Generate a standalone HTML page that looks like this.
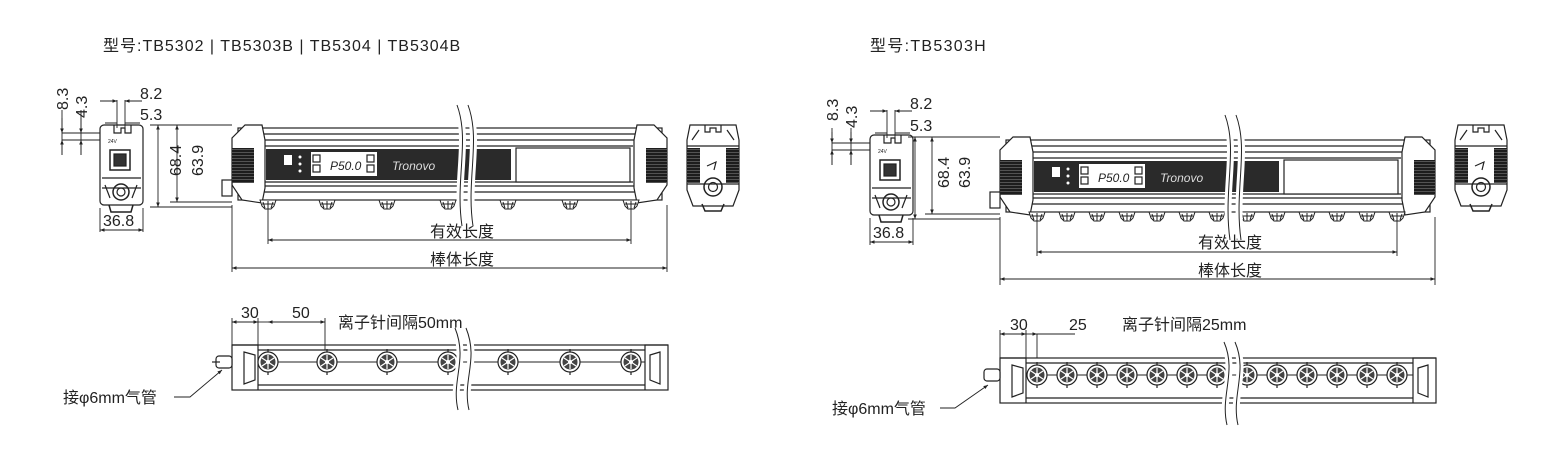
<!DOCTYPE html>
<html><head><meta charset="utf-8"><style>
html,body{margin:0;padding:0;background:#fff;}
svg{display:block}
text{font-family:"Liberation Sans","Noto Sans CJK SC",sans-serif;fill:#222}
</style></head><body>
<svg width="1560" height="450" viewBox="0 0 1560 450" xmlns="http://www.w3.org/2000/svg">
<defs>
<marker id="ar" viewBox="0 0 10 10" refX="10" refY="5" markerWidth="7" markerHeight="5" orient="auto-start-reverse"><path d="M0,1 L10,5 L0,9 z" fill="#222"/></marker>
<g id="emit"><path d="M-8,0 L8,0 L6,6 L3,9 L-3,9 L-6,6 z" fill="#fff" stroke="#222" stroke-width="1"/><path d="M-5,2 L-3,8 M0,1 L0,9 M5,2 L3,8 M-6,4 L6,4" stroke="#222" stroke-width="1"/></g>
<g id="ring"><circle r="10" fill="#fff" stroke="#222" stroke-width="1.2"/><circle r="7.5" fill="#444"/><path d="M-6,-4 L6,4 M-6,4 L6,-4 M0,-7 L0,7" stroke="#fff" stroke-width="1.2"/><circle r="2" fill="#fff"/><path d="M0,-13 L0,-10 M0,10 L0,13" stroke="#222"/></g>
<pattern id="grill" width="4" height="3" patternUnits="userSpaceOnUse"><rect width="4" height="3" fill="#1d1d1d"/><rect y="2" width="4" height="0.6" fill="#777"/></pattern>

<g id="side" stroke="#222" fill="none" stroke-width="1.2">
<rect x="100" y="125" width="43" height="80" rx="4" fill="#fff"/>
<path d="M114,125 L114,133 L121,133 L121,128 L125,128 L125,133 L131,133 L131,125"/>
<rect x="110" y="150" width="20" height="20" stroke-width="1.5"/>
<rect x="114" y="154" width="12" height="12" fill="#333"/>
<path d="M102,178 L141,178 M102,188 L141,188"/>
<circle cx="121" cy="192" r="8" stroke-width="1.5"/><circle cx="121" cy="192" r="4"/>
<path d="M105,185 L110,198 M137,185 L132,198"/>
<path d="M109,205 L111,212 L131,212 L133,205" stroke-width="1.5"/>
<text x="108" y="143" font-size="5" stroke="none">24V</text>
</g>

<g id="front" stroke="#222" fill="none" stroke-width="1.2">
<rect x="238" y="128" width="424" height="72" fill="#fff"/>
<path d="M262,134 L640,134 M262,140 L640,140 M262,186 L640,186 M262,192 L640,192"/>
<path d="M232,147 L232,185 L242,200 L262,203 L265,188 L265,140 L262,125 L245,125 L232,138 z" fill="#fff"/>
<path d="M667,147 L667,185 L657,200 L637,203 L634,188 L634,140 L637,125 L654,125 L667,138 z" fill="#fff"/>
<rect x="232" y="148" width="22" height="35" fill="url(#grill)" stroke="none"/>
<rect x="646" y="148" width="21" height="35" fill="url(#grill)" stroke="none"/>
<path d="M265,146 L633,146 M265,182 L633,182"/>
<rect x="266" y="149" width="245" height="31" fill="#2a2a2a" stroke="none"/>
<rect x="284" y="155" width="8" height="10" fill="#fff" stroke="none"/>
<circle cx="300" cy="157" r="1.5" fill="#fff" stroke="none"/><circle cx="300" cy="164" r="1.5" fill="#fff" stroke="none"/><circle cx="300" cy="171" r="1.5" fill="#fff" stroke="none"/>
<rect x="311" y="152" width="66" height="24" fill="#fff" stroke="none"/>
<rect x="313" y="155" width="7" height="7" fill="#fff"/><rect x="313" y="165" width="7" height="7" fill="#fff"/>
<rect x="367" y="155" width="7" height="7" fill="#fff"/><rect x="367" y="165" width="7" height="7" fill="#fff"/>
<text x="330" y="170" font-size="12" font-style="italic" stroke="none">P50.0</text>
<text x="392" y="170" font-size="12" font-style="italic" stroke="none" style="fill:#ddd">Tronovo</text>
<rect x="516" y="148" width="114" height="34" fill="#fff"/>
<rect x="222" y="180" width="10" height="16" fill="#fff"/>
<g stroke="none">
<use href="#emit" x="268" y="200"/><use href="#emit" x="327" y="200"/><use href="#emit" x="387" y="200"/><use href="#emit" x="448" y="200"/><use href="#emit" x="508" y="200"/><use href="#emit" x="570" y="200"/><use href="#emit" x="631" y="200"/>
</g>
</g>

<g id="endv" stroke="#222" fill="none" stroke-width="1.2">
<path d="M690,125 L736,125 L739,140 L739,190 L733,206 L693,206 L687,190 L687,140 z" fill="#fff"/>
<path d="M705,125 L705,132 L710,132 L710,128 L716,128 L716,132 L721,132 L721,125"/>
<path d="M692,140 L699,130 M734,140 L727,130 M687,146 L739,146 M687,184 L739,184"/>
<rect x="687" y="148" width="13" height="35" fill="url(#grill)" stroke="none"/>
<rect x="726" y="148" width="13" height="35" fill="url(#grill)" stroke="none"/>
<path d="M707,166 L716,162 L714,170"/>
<circle cx="713" cy="187" r="9" stroke-width="1.5"/><circle cx="713" cy="187" r="4.5"/>
<path d="M702,204 L705,211 L721,211 L724,204" stroke-width="1.5"/>
</g>

<g id="bot" stroke="#222" fill="none" stroke-width="1.2">
<rect x="232" y="345" width="436" height="45" fill="#fff"/>
<path d="M232,345 L258,345 L258,390 M668,345 L645,345 L645,390"/>
<path d="M258,350 L645,350 M258,385 L645,385"/>
<path d="M244,352 L255,355 L255,380 L244,384 z"/>
<path d="M660,352 L650,355 L650,380 L660,384 z"/>
<rect x="216" y="356" width="16" height="12" rx="3" fill="#fff"/>
<path d="M212,362 L220,362"/>
<path d="M258,362 L645,362" stroke-width="1"/>
<g stroke="none">
<use href="#ring" x="268" y="362"/><use href="#ring" x="327" y="362"/><use href="#ring" x="387" y="362"/><use href="#ring" x="448" y="362"/><use href="#ring" x="508" y="362"/><use href="#ring" x="570" y="362"/><use href="#ring" x="631" y="362"/>
</g>
</g>
</defs>

<!-- LEFT -->
<text x="103" y="51" font-size="16" letter-spacing="1">型号:TB5302 | TB5303B | TB5304 | TB5304B</text>
<use href="#side"/><use href="#front"/><use href="#endv"/><use href="#bot"/>
<g stroke="#222" stroke-width="0.9" fill="none">
<path d="M62,133 L100,133 M62,140 L100,140 M62,122 L62,155 M81,122 L81,155 M62,110 L62,133 M81,110 L81,133"/>
<path d="M62,118 L62,133" marker-end="url(#ar)"/><path d="M62,155 L62,140" marker-end="url(#ar)"/>
<path d="M81,118 L81,133" marker-end="url(#ar)"/><path d="M81,155 L81,140" marker-end="url(#ar)"/>
<path d="M117,100 L117,128 M125,100 L125,128"/>
<path d="M100,101 L117,101" marker-end="url(#ar)"/><path d="M142,101 L125,101" marker-end="url(#ar)"/>
<path d="M105,123 L117,123 M125,123 L140,123"/>
<path d="M100,208 L100,232 M143,208 L143,232"/>
<path d="M100,230 L143,230" marker-start="url(#ar)" marker-end="url(#ar)"/>
<path d="M150,125 L232,125 M150,207 L232,207 M170,202 L232,202"/>
<path d="M158,125 L158,207" marker-start="url(#ar)" marker-end="url(#ar)"/>
<path d="M177,125 L177,202" marker-start="url(#ar)" marker-end="url(#ar)"/>
<path d="M268,206 L268,244 M631,206 L631,244 M232,205 L232,272 M667,205 L667,272"/>
<path d="M268,240 L631,240" marker-start="url(#ar)" marker-end="url(#ar)"/>
<path d="M232,268 L667,268" marker-start="url(#ar)" marker-end="url(#ar)"/>
<path d="M232,318 L232,345 M258,318 L258,345 M325,318 L325,350"/>
<path d="M232,322 L258,322" marker-start="url(#ar)" marker-end="url(#ar)"/>
<path d="M268,322 L325,322" marker-start="url(#ar)" marker-end="url(#ar)"/><path d="M258,322 L268,322"/>
<path d="M174,397 L190,397 L222,370" marker-end="url(#ar)"/>
</g>
<text transform="translate(68,110) rotate(-90)" font-size="16">8.3</text>
<text transform="translate(87,118) rotate(-90)" font-size="16">4.3</text>
<text x="140" y="99" font-size="16">8.2</text>
<text x="140" y="120" font-size="16">5.3</text>
<text x="103" y="226" font-size="16">36.8</text>
<text transform="translate(181,176) rotate(-90)" font-size="16">68.4</text>
<text transform="translate(203,176) rotate(-90)" font-size="16">63.9</text>
<text x="430" y="237" font-size="16">有效长度</text>
<text x="430" y="265" font-size="16">棒体长度</text>
<text x="241" y="318" font-size="16">30</text>
<text x="292" y="318" font-size="16">50</text>
<text x="338" y="328" font-size="16">离子针间隔50mm</text>
<text x="63" y="403" font-size="16">接φ6mm气管</text>
<path d="M457,105 C470,140 455,180 462,226 M468,105 C481,140 466,180 473,226" stroke="#fff" stroke-width="7" fill="none"/>
<path d="M457,105 C470,140 455,180 462,226 M468,105 C481,140 466,180 473,226" stroke="#222" stroke-width="1" fill="none"/>
<path d="M455,328 C468,360 451,380 458,410 M466,328 C479,360 462,380 469,410" stroke="#fff" stroke-width="7" fill="none"/>
<path d="M455,328 C468,360 451,380 458,410 M466,328 C479,360 462,380 469,410" stroke="#222" stroke-width="1" fill="none"/>

<!-- RIGHT -->
<text x="870" y="51" font-size="16" letter-spacing="1.3">型号:TB5303H</text>
<g transform="translate(770,10)"><use href="#side"/></g>
<g transform="translate(768,12)">
<g stroke="#222" fill="none" stroke-width="1.2">
<rect x="238" y="128" width="424" height="72" fill="#fff"/>
<path d="M262,134 L640,134 M262,140 L640,140 M262,186 L640,186 M262,192 L640,192"/>
<path d="M232,147 L232,185 L242,200 L262,203 L265,188 L265,140 L262,125 L245,125 L232,138 z" fill="#fff"/>
<path d="M667,147 L667,185 L657,200 L637,203 L634,188 L634,140 L637,125 L654,125 L667,138 z" fill="#fff"/>
<rect x="232" y="148" width="22" height="35" fill="url(#grill)" stroke="none"/>
<rect x="646" y="148" width="21" height="35" fill="url(#grill)" stroke="none"/>
<path d="M265,146 L633,146 M265,182 L633,182"/>
<rect x="266" y="149" width="245" height="31" fill="#2a2a2a" stroke="none"/>
<rect x="284" y="155" width="8" height="10" fill="#fff" stroke="none"/>
<circle cx="300" cy="157" r="1.5" fill="#fff" stroke="none"/><circle cx="300" cy="164" r="1.5" fill="#fff" stroke="none"/><circle cx="300" cy="171" r="1.5" fill="#fff" stroke="none"/>
<rect x="311" y="152" width="66" height="24" fill="#fff" stroke="none"/>
<rect x="313" y="155" width="7" height="7" fill="#fff"/><rect x="313" y="165" width="7" height="7" fill="#fff"/>
<rect x="367" y="155" width="7" height="7" fill="#fff"/><rect x="367" y="165" width="7" height="7" fill="#fff"/>
<text x="330" y="170" font-size="12" font-style="italic" stroke="none">P50.0</text>
<text x="392" y="170" font-size="12" font-style="italic" stroke="none" style="fill:#ddd">Tronovo</text>
<rect x="516" y="148" width="114" height="34" fill="#fff"/>
<rect x="222" y="180" width="10" height="16" fill="#fff"/>
<g stroke="none">
<use href="#emit" x="269" y="200"/><use href="#emit" x="299" y="200"/><use href="#emit" x="329" y="200"/><use href="#emit" x="359" y="200"/><use href="#emit" x="389" y="200"/><use href="#emit" x="419" y="200"/><use href="#emit" x="449" y="200"/><use href="#emit" x="479" y="200"/><use href="#emit" x="509" y="200"/><use href="#emit" x="539" y="200"/><use href="#emit" x="569" y="200"/><use href="#emit" x="599" y="200"/><use href="#emit" x="629" y="200"/>
</g>
</g>
</g>
<g transform="translate(768,0)"><use href="#endv"/></g>
<g transform="translate(768,13)">
<g stroke="#222" fill="none" stroke-width="1.2">
<rect x="232" y="345" width="436" height="45" fill="#fff"/>
<path d="M232,345 L258,345 L258,390 M668,345 L645,345 L645,390"/>
<path d="M258,350 L645,350 M258,385 L645,385"/>
<path d="M244,352 L255,355 L255,380 L244,384 z"/>
<path d="M660,352 L650,355 L650,380 L660,384 z"/>
<rect x="216" y="356" width="16" height="12" rx="3" fill="#fff"/>
<path d="M258,362 L645,362" stroke-width="1"/>
<g stroke="none">
<use href="#ring" x="269" y="362"/><use href="#ring" x="299" y="362"/><use href="#ring" x="329" y="362"/><use href="#ring" x="359" y="362"/><use href="#ring" x="389" y="362"/><use href="#ring" x="419" y="362"/><use href="#ring" x="449" y="362"/><use href="#ring" x="479" y="362"/><use href="#ring" x="509" y="362"/><use href="#ring" x="539" y="362"/><use href="#ring" x="569" y="362"/><use href="#ring" x="599" y="362"/><use href="#ring" x="629" y="362"/>
</g>
</g>
</g>
<g stroke="#222" stroke-width="0.9" fill="none">
<path d="M832,143 L870,143 M832,150 L870,150 M832,132 L832,165 M851,132 L851,165"/>
<path d="M832,128 L832,143" marker-end="url(#ar)"/><path d="M832,165 L832,150" marker-end="url(#ar)"/>
<path d="M851,128 L851,143" marker-end="url(#ar)"/><path d="M851,165 L851,150" marker-end="url(#ar)"/>
<path d="M887,110 L887,138 M895,110 L895,138"/>
<path d="M870,111 L887,111" marker-end="url(#ar)"/><path d="M912,111 L895,111" marker-end="url(#ar)"/>
<path d="M875,133 L887,133 M895,133 L910,133"/>
<path d="M870,218 L870,245 M913,218 L913,245"/>
<path d="M870,242 L913,242" marker-start="url(#ar)" marker-end="url(#ar)"/>
<path d="M908,137 L1000,137 M908,219 L1000,219 M925,214 L1000,214"/>
<path d="M915,137 L915,219" marker-start="url(#ar)" marker-end="url(#ar)"/>
<path d="M932,137 L932,214" marker-start="url(#ar)" marker-end="url(#ar)"/>
<path d="M1037,218 L1037,256 M1397,218 L1397,256 M1000,217 L1000,285 M1435,217 L1435,285"/>
<path d="M1037,252 L1397,252" marker-start="url(#ar)" marker-end="url(#ar)"/>
<path d="M1000,279 L1435,279" marker-start="url(#ar)" marker-end="url(#ar)"/>
<path d="M1000,330 L1000,358 M1026,330 L1026,358 M1037,334 L1037,358"/>
<path d="M1000,334 L1026,334" marker-start="url(#ar)" marker-end="url(#ar)"/>
<path d="M1026,334 L1037,334" marker-end="url(#ar)"/><path d="M1037,334 L1075,334"/>
<path d="M940,408 L955,408 L988,385" marker-end="url(#ar)"/>
</g>
<text transform="translate(838,121) rotate(-90)" font-size="16">8.3</text>
<text transform="translate(857,128) rotate(-90)" font-size="16">4.3</text>
<text x="910" y="109" font-size="16">8.2</text>
<text x="910" y="131" font-size="16">5.3</text>
<text x="873" y="238" font-size="16">36.8</text>
<text transform="translate(949,188) rotate(-90)" font-size="16">68.4</text>
<text transform="translate(970,188) rotate(-90)" font-size="16">63.9</text>
<text x="1198" y="248" font-size="16">有效长度</text>
<text x="1198" y="276" font-size="16">棒体长度</text>
<text x="1010" y="330" font-size="16">30</text>
<text x="1069" y="330" font-size="16">25</text>
<text x="1122" y="330" font-size="16">离子针间隔25mm</text>
<text x="832" y="414" font-size="16">接φ6mm气管</text>
<path d="M1225,115 C1238,150 1223,190 1230,240 M1236,115 C1249,150 1234,190 1241,240" stroke="#fff" stroke-width="7" fill="none"/>
<path d="M1225,115 C1238,150 1223,190 1230,240 M1236,115 C1249,150 1234,190 1241,240" stroke="#222" stroke-width="1" fill="none"/>
<path d="M1224,342 C1237,372 1220,395 1227,425 M1235,342 C1248,372 1231,395 1238,425" stroke="#fff" stroke-width="7" fill="none"/>
<path d="M1224,342 C1237,372 1220,395 1227,425 M1235,342 C1248,372 1231,395 1238,425" stroke="#222" stroke-width="1" fill="none"/>
</svg>
</body></html>
